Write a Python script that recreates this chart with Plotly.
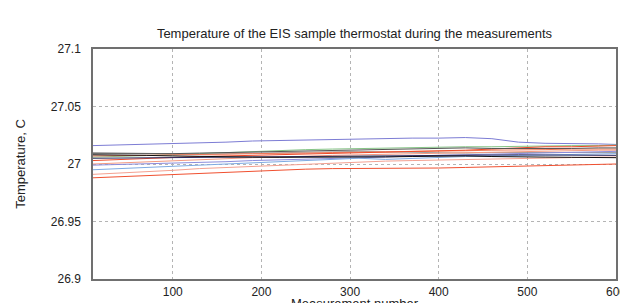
import plotly.graph_objects as go

x = [10, 40, 70, 100, 130, 160, 190, 220, 250, 280, 310, 340, 370, 400, 430, 460, 490, 520, 550, 580, 600]

blue_top = [27.016, 27.0165, 27.017, 27.018, 27.0185, 27.019, 27.020, 27.0205, 27.021, 27.0215, 27.022, 27.022, 27.0225, 27.0225, 27.023, 27.022, 27.019, 27.018, 27.018, 27.0175, 27.017]
green = [27.006, 27.0065, 27.007, 27.008, 27.009, 27.010, 27.011, 27.012, 27.0125, 27.013, 27.0135, 27.014, 27.014, 27.0145, 27.015, 27.015, 27.0155, 27.016, 27.016, 27.016, 27.0165]
dark_gray = [27.009, 27.009, 27.0088, 27.009, 27.0095, 27.010, 27.0105, 27.011, 27.0115, 27.012, 27.0125, 27.013, 27.0135, 27.014, 27.014, 27.0135, 27.0135, 27.013, 27.0135, 27.014, 27.014]
black = [27.008, 27.008, 27.0075, 27.007, 27.0065, 27.006, 27.006, 27.0058, 27.0058, 27.006, 27.006, 27.0062, 27.0065, 27.007, 27.007, 27.0065, 27.0065, 27.006, 27.0058, 27.0055, 27.0055]
red_a = [27.003, 27.004, 27.005, 27.006, 27.0065, 27.007, 27.0075, 27.008, 27.009, 27.0095, 27.010, 27.0105, 27.011, 27.0115, 27.012, 27.013, 27.014, 27.015, 27.015, 27.0155, 27.016]
red_b = [26.988, 26.989, 26.990, 26.991, 26.992, 26.993, 26.994, 26.995, 26.9955, 26.996, 26.996, 26.996, 26.996, 26.9965, 26.997, 26.9975, 26.998, 26.9985, 26.999, 26.9995, 27.000]
red_c = [26.991, 26.992, 26.993, 26.9945, 26.996, 26.997, 26.998, 26.999, 27.000, 27.001, 27.002, 27.0025, 27.003, 27.0035, 27.004, 27.0045, 27.005, 27.005, 27.0055, 27.006, 27.006]
red_d = [27.007, 27.007, 27.0075, 27.008, 27.008, 27.0085, 27.009, 27.009, 27.0095, 27.010, 27.010, 27.0105, 27.011, 27.011, 27.0115, 27.012, 27.012, 27.0125, 27.013, 27.013, 27.013]
light_blue = [26.995, 26.996, 26.997, 26.998, 26.999, 27.000, 27.001, 27.002, 27.003, 27.004, 27.005, 27.004, 27.005, 27.006, 27.0065, 27.007, 27.0075, 27.008, 27.008, 27.0085, 27.009]
blue_2 = [26.999, 26.9995, 27.000, 27.0008, 27.0015, 27.002, 27.003, 27.0035, 27.004, 27.005, 27.0055, 27.006, 27.007, 27.0075, 27.008, 27.009, 27.0095, 27.010, 27.0105, 27.011, 27.011]
navy = [27.005, 27.0052, 27.0055, 27.006, 27.006, 27.0062, 27.0065, 27.0065, 27.007, 27.007, 27.007, 27.0072, 27.0075, 27.0075, 27.0078, 27.008, 27.008, 27.0078, 27.0075, 27.0075, 27.0075]
gray_light = [27.010, 27.0095, 27.009, 27.0085, 27.0085, 27.009, 27.0095, 27.010, 27.010, 27.0105, 27.011, 27.0105, 27.010, 27.0095, 27.0095, 27.010, 27.010, 27.0095, 27.0095, 27.010, 27.010]
orange = [27.000, 27.001, 27.002, 27.003, 27.004, 27.005, 27.0055, 27.006, 27.007, 27.0075, 27.008, 27.0085, 27.009, 27.0095, 27.010, 27.0105, 27.011, 27.011, 27.0115, 27.012, 27.012]

series = [
    (blue_top, "#7c7cd4"),
    (green, "#86c486"),
    (gray_light, "#a0a0a0"),
    (red_d, "#f07858"),
    (red_a, "#ee4a28"),
    (orange, "#f49a80"),
    (dark_gray, "#555555"),
    (blue_2, "#8c8cdc"),
    (light_blue, "#7eaae2"),
    (red_c, "#f4a090"),
    (red_b, "#f05030"),
    (navy, "#2a2a60"),
    (black, "#111111"),
]

x_ticks = [100, 200, 300, 400, 500, 600]
y_ticks = [26.9, 26.95, 27.0, 27.05, 27.1]
y_tick_text = ["26.9", "26.95", "27", "27.05", "27.1"]
x_title = "Measurement number"

fig = go.Figure()
for ys, col in series:
    fig.add_trace(go.Scatter(x=x, y=ys, mode="lines", line=dict(color=col, width=1), showlegend=False))

FAM = "Liberation Sans, Arial, sans-serif"
tick_font = dict(family=FAM, size=12, color="#222222")
title_font = dict(family=FAM, size=13, color="#222222")

fig.update_layout(
    width=628, height=303,
    margin=dict(l=85, r=20, t=41, b=32),
    paper_bgcolor="white", plot_bgcolor="white",
    font=tick_font,
    title=dict(text="Temperature of the EIS sample thermostat during the measurements",
               x=0.5, xref="paper", xanchor="center",
               y=1 - 25 / 303, yref="container", yanchor="middle",
               font=title_font),
)
fig.update_xaxes(
    range=[10, 600], tickvals=x_ticks, ticks="", showgrid=True,
    gridcolor="#b4b4b4", griddash="dot", gridwidth=1,
    showline=True, linecolor="#707070", linewidth=1.5, mirror=True, zeroline=False,
    ticklabelstandoff=1, tickfont=tick_font,
    title=dict(text=x_title, standoff=15, font=title_font),
    automargin=False,
)
fig.update_yaxes(
    range=[26.9, 27.1], tickvals=y_ticks, ticktext=y_tick_text, ticks="", showgrid=True,
    gridcolor="#b4b4b4", griddash="dot", gridwidth=1,
    showline=True, linecolor="#707070", linewidth=1.5, mirror=True, zeroline=False,
    ticklabelstandoff=8, tickfont=tick_font,
    title=dict(text="Temperature, C", standoff=22, font=title_font),
    automargin=False,
)

fig.write_html("out.html")
